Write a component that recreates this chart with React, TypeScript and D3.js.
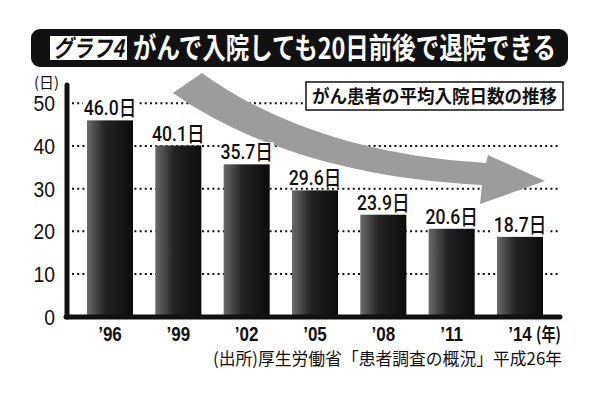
import React from "react";
import * as d3 from "d3";

const years = ["’96", "’99", "’02", "’05", "’08", "’11", "’14"];
const days = [46.0, 40.1, 35.7, 29.6, 23.9, 20.6, 18.7];
const dayLabels = ["46.0日", "40.1日", "35.7日", "29.6日", "23.9日", "20.6日", "18.7日"];
const yTicks = [0, 10, 20, 30, 40, 50];
const titleTag = "グラフ4";
const titleText = "がんで入院しても20日前後で退院できる";
const subtitle = "がん患者の平均入院日数の推移";
const sourceText = "(出所)厚生労働省「患者調査の概況」平成26年";
const yUnit = "(日)";
const xUnit = "(年)";

const W = 600;
const H = 400;
const cjk = "'Noto Sans CJK JP', 'Noto Sans', sans-serif";
const num = "'Liberation Sans', Arial, sans-serif";
const numMed = "Roboto, 'Liberation Sans', 'Noto Sans CJK JP', sans-serif";

export default function App() {
  const y = d3.scaleLinear().domain([0, 50]).range([316.7, 103.3]);
  const x = d3
    .scaleBand<string>()
    .domain(years)
    .range([75.85, 554.15])
    .paddingInner(0.326)
    .paddingOuter(0.163);
  const bw = x.bandwidth();

  const arrow = d3.path();
  arrow.moveTo(202, 73);
  arrow.bezierCurveTo(260, 115, 350, 155, 486, 163);
  arrow.lineTo(488, 155);
  arrow.lineTo(545, 181);
  arrow.lineTo(480, 204);
  arrow.lineTo(482, 185);
  arrow.bezierCurveTo(340, 178, 240, 140, 173, 93);
  arrow.closePath();

  return (
    <svg
      width={W}
      height={H}
      viewBox={`0 0 ${W} ${H}`}
      style={{ position: "absolute", left: 0, top: 0, background: "#fff" }}
    >
      <defs>
        <linearGradient id="barGrad" x1="0" x2="1" y1="0" y2="0">
          <stop offset="0%" stopColor="#6a6a6a" />
          <stop offset="40%" stopColor="#232323" />
          <stop offset="100%" stopColor="#0c0c0c" />
        </linearGradient>
      </defs>
      <rect x={0} y={0} width={W} height={H} fill="#fff" />

      {/* gridlines */}
      {yTicks
        .filter((t) => t > 0)
        .map((t) => (
          <line
            key={t}
            x1={72}
            x2={560}
            y1={y(t)}
            y2={y(t)}
            stroke="#111"
            strokeWidth={2}
            strokeDasharray="2 3.2"
          />
        ))}

      {/* arrow */}
      <path d={arrow.toString()} fill="#9c9c9c" />

      {/* bars */}
      {days.map((d, i) => (
        <rect
          key={years[i]}
          x={x(years[i])}
          y={y(d)}
          width={bw}
          height={y(0) - y(d)}
          fill="url(#barGrad)"
        />
      ))}

      {/* bar labels */}
      {days.map((d, i) => {
        const cx = (x(years[i]) as number) + bw / 2;
        return (
          <g key={"l" + i}>
            <rect x={cx - 27} y={y(d) - 22} width={54} height={19} fill="#fff" />
            <text
              transform={`translate(${cx},${y(d) - 5}) scale(0.84,1)`}
              textAnchor="middle"
              fontFamily={numMed}
              fontWeight={500}
              fontSize={21}
              fill="#111"
            >
              {dayLabels[i]}
            </text>
          </g>
        );
      })}

      {/* axes */}
      <line x1={67} x2={67} y1={85} y2={317} stroke="#111" strokeWidth={5} strokeLinecap="round" />
      <line x1={66} x2={560} y1={317} y2={317} stroke="#111" strokeWidth={5} strokeLinecap="round" />

      {/* y tick labels */}
      {yTicks.map((t) => (
        <text
          key={"y" + t}
          transform={`translate(55,${y(t) + 8}) scale(0.88,1)`}
          textAnchor="end"
          fontFamily={num}
          fontSize={22}
          fill="#111"
        >
          {t}
        </text>
      ))}
      <text x={34} y={88} fontFamily={cjk} fontSize={15} fill="#111" textLength={25} lengthAdjust="spacingAndGlyphs">
        {yUnit}
      </text>

      {/* x labels */}
      {years.map((yr) => (
        <text
          key={"x" + yr}
          transform={`translate(${(x(yr) as number) + bw / 2},${341}) scale(0.85,1)`}
          textAnchor="middle"
          fontFamily={num}
          fontWeight="bold"
          fontSize={20}
          fill="#111"
        >
          {yr}
        </text>
      ))}
      <text x={536} y={341} fontFamily={cjk} fontWeight="bold" fontSize={18} fill="#111" textLength={25} lengthAdjust="spacingAndGlyphs">
        {xUnit}
      </text>

      {/* source */}
      <text x={213} y={365} fontFamily={cjk} fontSize={17} fill="#111" textLength={349} lengthAdjust="spacingAndGlyphs">
        {sourceText}
      </text>

      {/* subtitle box */}
      <rect x={306} y={82} width={257} height={28} fill="#fff" stroke="#111" strokeWidth={1.5} />
      <text x={312} y={103} fontFamily={cjk} fontWeight="bold" fontSize={18} fill="#111" textLength={245} lengthAdjust="spacingAndGlyphs">
        {subtitle}
      </text>

      {/* title bar */}
      <rect x={31} y={29} width={537} height={38} rx={9} ry={9} fill="#111" />
      <rect x={50} y={36} width={77} height={24} fill="#fff" />
      <text
        x={53}
        y={57}
        fontFamily={cjk}
        fontWeight="bold"
        fontSize={24}
        fill="#111"
        textLength={71}
        lengthAdjust="spacingAndGlyphs"
        fontStyle="italic"
      >
        {titleTag}
      </text>
      <text
        x={133}
        y={59}
        fontFamily={cjk}
        fontWeight="bold"
        fontSize={29}
        fill="#fff"
        textLength={423}
        lengthAdjust="spacingAndGlyphs"
      >
        {titleText}
      </text>
    </svg>
  );
}
